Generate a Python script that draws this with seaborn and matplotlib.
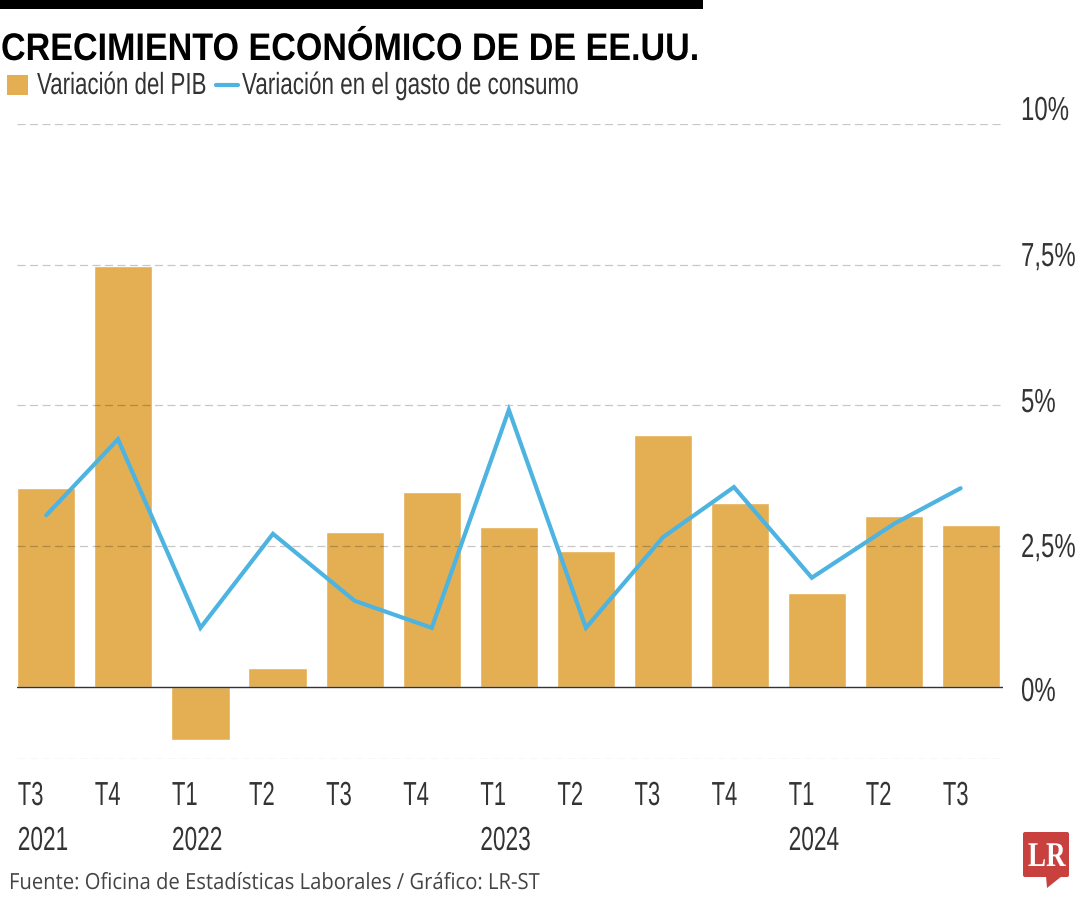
import seaborn as sns
import matplotlib
matplotlib.use("Agg")
import matplotlib.pyplot as plt
import pandas as pd
from matplotlib.patches import FancyBboxPatch, Polygon, Rectangle
from matplotlib.lines import Line2D
from matplotlib.patheffects import AbstractPathEffect
from matplotlib.text import Text
from matplotlib.transforms import Affine2D, Bbox, IdentityTransform

quarters = ["T3", "T4", "T1", "T2", "T3", "T4", "T1", "T2", "T3", "T4", "T1", "T2", "T3"]
years = ["2021", "", "2022", "", "", "", "2023", "", "", "", "2024", "", ""]
gdp = [3.53, 7.48, -0.94, 0.33, 2.75, 3.46, 2.84, 2.42, 4.48, 3.26, 1.67, 3.04, 2.88]
consumption = [3.05, 4.4, 1.05, 2.72, 1.53, 1.05, 4.92, 1.05, 2.66, 3.55, 1.94, 2.9, 3.53]
consumption_period = [0, 0.93, 2, 2.94, 4, 5, 6, 7, 8, 8.92, 9.93, 11, 11.86]
gridlines = [10, 7.5, 5, 2.5, -1.28]
ytick_labels = ["10%", "7,5%", "5%", "2,5%", "0%"]

W, H = 1080, 900
sns.set_theme(style="white")
plt.rcParams["font.family"] = ["Liberation Sans", "DejaVu Sans"]
plt.rcParams["lines.scale_dashes"] = False

GOLD = "#E4AF52"
BLUE = "#4DB3E0"
TXT = "#333333"
RED = "#C8413E"


class Squeeze(AbstractPathEffect):
    """Narrows glyph outlines horizontally about the text's anchor."""
    def __init__(self, x0, sx):
        super().__init__()
        self.x0, self.sx = x0, sx

    def draw_path(self, renderer, gc, tpath, affine, rgbFace=None):
        squeeze = Affine2D().translate(-self.x0, 0).scale(self.sx, 1).translate(self.x0, 0)
        renderer.draw_path(gc, tpath, affine + squeeze, rgbFace)


class NarrowText(Text):
    """Left-aligned text whose reported layout matches its narrowed drawing."""
    def __init__(self, x, y, s, sx=1.0, **kw):
        super().__init__(x, y, s, transform=IdentityTransform(), ha="left", va="baseline", **kw)
        self.sx = sx
        self.set_path_effects([Squeeze(x, sx)])

    def _get_layout(self, renderer):
        bbox, info, descent = super()._get_layout(renderer)
        narrow = Bbox.from_bounds(bbox.x0, bbox.y0, bbox.width * self.sx, bbox.height)
        return narrow, info, descent


def label(px, py, s, size, sx, color=TXT, **kw):
    fig.add_artist(NarrowText(px, H - py, s, sx=sx, fontsize=size, color=color, **kw))


def px_rect(x0, y0, x1, y1, color):
    fig.add_artist(Rectangle((x0, H - y1), x1 - x0, y1 - y0, transform=IdentityTransform(), color=color, lw=0))


fig = plt.figure(figsize=(W / 100, H / 100), dpi=100)
left, right, top, bottom = 17, 1003, 124, 759
ax = fig.add_axes([left / W, 1 - bottom / H, (right - left) / W, (bottom - top) / H])
bars = pd.DataFrame({"period": range(len(gdp)), "gdp": gdp})
line = pd.DataFrame({"period": consumption_period, "cons": consumption})
sns.barplot(data=bars, x="period", y="gdp", color=GOLD, width=0.755, saturation=1, native_scale=True, ax=ax, zorder=2)
for g in gridlines:
    ax.axhline(g, color="black", alpha=0.22, lw=0.9, dashes=(5.8, 3.2), zorder=2.5)
sns.lineplot(data=line, x="period", y="cons", color=BLUE, lw=3.0, ax=ax, zorder=3, errorbar=None,
             solid_joinstyle="miter", solid_capstyle="round")
ax.axhline(0, color="#333333", lw=1.0, zorder=4)
ax.set_xlim(-0.38, 12.41)
ax.set_ylim(-1.28, 10)
ax.set_xlabel("")
ax.set_ylabel("")
ax.set_xticks([])
ax.set_yticks([])
sns.despine(ax=ax, left=True, bottom=True)

for py, s in zip([120, 266, 412, 557, 701], ytick_labels):
    label(1021, py, s, 24, 0.72)
for i, (q, y) in enumerate(zip(quarters, years)):
    xp = ax.transData.transform((i - 0.37, 0))[0]
    label(xp, 805, q, 24, 0.66)
    if y:
        label(xp, 850, y, 24, 0.68)

px_rect(0, 0, 703, 9, "black")
label(1, 60, "CRECIMIENTO ECONÓMICO DE DE EE.UU.", 27.7, 0.886, color="black", fontweight="bold")
px_rect(7, 75, 28, 95, GOLD)
label(37, 94, "Variación del PIB", 22, 0.73)
fig.add_artist(Line2D([216, 238], [H - 85] * 2, transform=IdentityTransform(), color=BLUE, lw=3.0))
label(242, 94, "Variación en el gasto de consumo", 22, 0.735)
label(9, 889, "Fuente: Oficina de Estadísticas Laborales / Gráfico: LR-ST", 16, 0.91, family="Open Sans", color="#444444")

fig.add_artist(FancyBboxPatch((1023, H - 877), 46, 45, boxstyle="round,pad=0,rounding_size=2",
                              transform=IdentityTransform(), color=RED, lw=0))
fig.add_artist(Polygon([(1046, H - 876), (1062, H - 876), (1047, H - 888)],
                       transform=IdentityTransform(), color=RED, lw=0))
label(1028, 866, "LR", 25, 0.78, color="white", fontweight="bold", family="Liberation Serif")

fig.savefig("out.png", dpi=100, facecolor="white")
